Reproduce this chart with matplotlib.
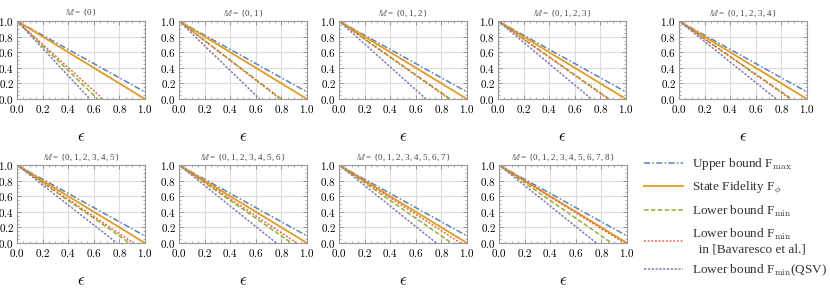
import numpy as np
import matplotlib.pyplot as plt
from matplotlib.ticker import MultipleLocator, FuncFormatter

plt.rcParams['font.family'] = ['Liberation Serif', 'DejaVu Serif']
plt.rcParams['mathtext.fontset'] = 'cm'

# panel titles (sets M)
sets = ['{0}', '{0, 1}', '{0, 1, 2}', '{0, 1, 2, 3}', '{0, 1, 2, 3, 4}',
        '{0, 1, 2, 3, 4, 5}', '{0, 1, 2, 3, 4, 5, 6}',
        '{0, 1, 2, 3, 4, 5, 6, 7}', '{0, 1, 2, 3, 4, 5, 6, 7, 8}']

# value of the upper bound at eps = 1
fmax_end = [0.09, 0.09, 0.09, 0.09, 0.09, 0.09, 0.09, 0.09, 0.09]
# eps where each curve reaches zero
fpsi_zero = [1.0, 1.0, 1.0, 1.0, 1.0, 1.0, 1.0, 1.0, 1.0]
fmin_zero = [0.63, 0.80, 0.87, 0.87, 0.88, 0.88, 0.88, 0.88, 0.88]
bav_zero = [0.67, 0.79, 0.86, 0.86, 0.87, 0.91, 0.92, 0.95, 0.98]
qsv_zero = [0.57, 0.63, 0.68, 0.73, 0.76, 0.78, 0.76, 0.76, 0.76]

c_blue = '#5E81B5'
c_orange = '#E19C24'
c_green = '#8FB032'
c_red = '#EB6235'
c_purple = '#8778B3'

W, H = 830, 288
lefts = [17, 179, 339, 498, 679, 17, 179, 339, 499]
tops = [21, 21, 21, 21, 21, 165, 165, 165, 165]
aw, ah = 128, 78

fig = plt.figure(figsize=(W / 100, H / 100), dpi=100)

fmt = FuncFormatter(lambda v, p: r'$%.1f$' % v)
lw = 1.1
handles = None
for i in range(9):
    ax = fig.add_axes([lefts[i] / W, 1 - (tops[i] + ah) / H, aw / W, ah / H])
    ax.set_xlim(0, 1)
    ax.set_ylim(0, 1)
    ax.grid(True, color='#dcdcdc', lw=0.8)
    ax.set_axisbelow(True)
    h1, = ax.plot([0, 1], [1, fmax_end[i]], color=c_blue, lw=lw,
                  dashes=[4, 1.5, 1, 1.5])
    h2, = ax.plot([0, fpsi_zero[i]], [1, 0], color=c_orange, lw=lw + 0.2)
    h3, = ax.plot([0, fmin_zero[i]], [1, 0], color=c_green, lw=lw,
                  dashes=[3, 1.5])
    h4, = ax.plot([0, bav_zero[i]], [1, 0], color=c_red, lw=lw,
                  dashes=[1.2, 1.2])
    h5, = ax.plot([0, qsv_zero[i]], [1, 0], color=c_purple, lw=lw,
                  dashes=[1.5, 1])
    if handles is None:
        handles = [h1, h2, h3, h4, h5]
    ax.xaxis.set_major_locator(MultipleLocator(0.2))
    ax.yaxis.set_major_locator(MultipleLocator(0.2))
    ax.xaxis.set_minor_locator(MultipleLocator(0.05))
    ax.yaxis.set_minor_locator(MultipleLocator(0.05))
    ax.xaxis.set_major_formatter(fmt)
    ax.yaxis.set_major_formatter(fmt)
    ax.tick_params(which='both', direction='in', top=True, right=True,
                   color='#888888', labelsize=8, pad=2)
    ax.tick_params(axis='x', pad=3)
    ax.tick_params(which='major', length=3, width=0.6)
    ax.tick_params(which='minor', length=1.5, width=0.5)
    for s in ax.spines.values():
        s.set_color('#999999')
        s.set_linewidth(0.8)
    ax.set_title(r'$\mathbb{M}$ = ' + sets[i], fontsize=6.5,
                 color='#444444', pad=4)
    ax.set_xlabel(r'$\epsilon$', fontsize=12, labelpad=10)

labels = [r'Upper bound F$_{\rm max}$', r'State Fidelity F$_{\phi}$',
          r'Lower bound F$_{\rm min}$',
          'Lower bound F$_{\\rm min}$\n  in [Bavaresco et al.]',
          r'Lower bound F$_{\rm min}$(QSV)']
leg = fig.legend(handles, labels, loc='upper left',
                 bbox_to_anchor=(639 / W, 1 - 151 / H), frameon=False,
                 fontsize=9.5, handlelength=2.9, labelspacing=0.55,
                 handletextpad=0.7, borderaxespad=0)
for t in leg.get_texts():
    t.set_color('#333333')
    t.set_multialignment('left')

fig.savefig('out.png', dpi=100)
